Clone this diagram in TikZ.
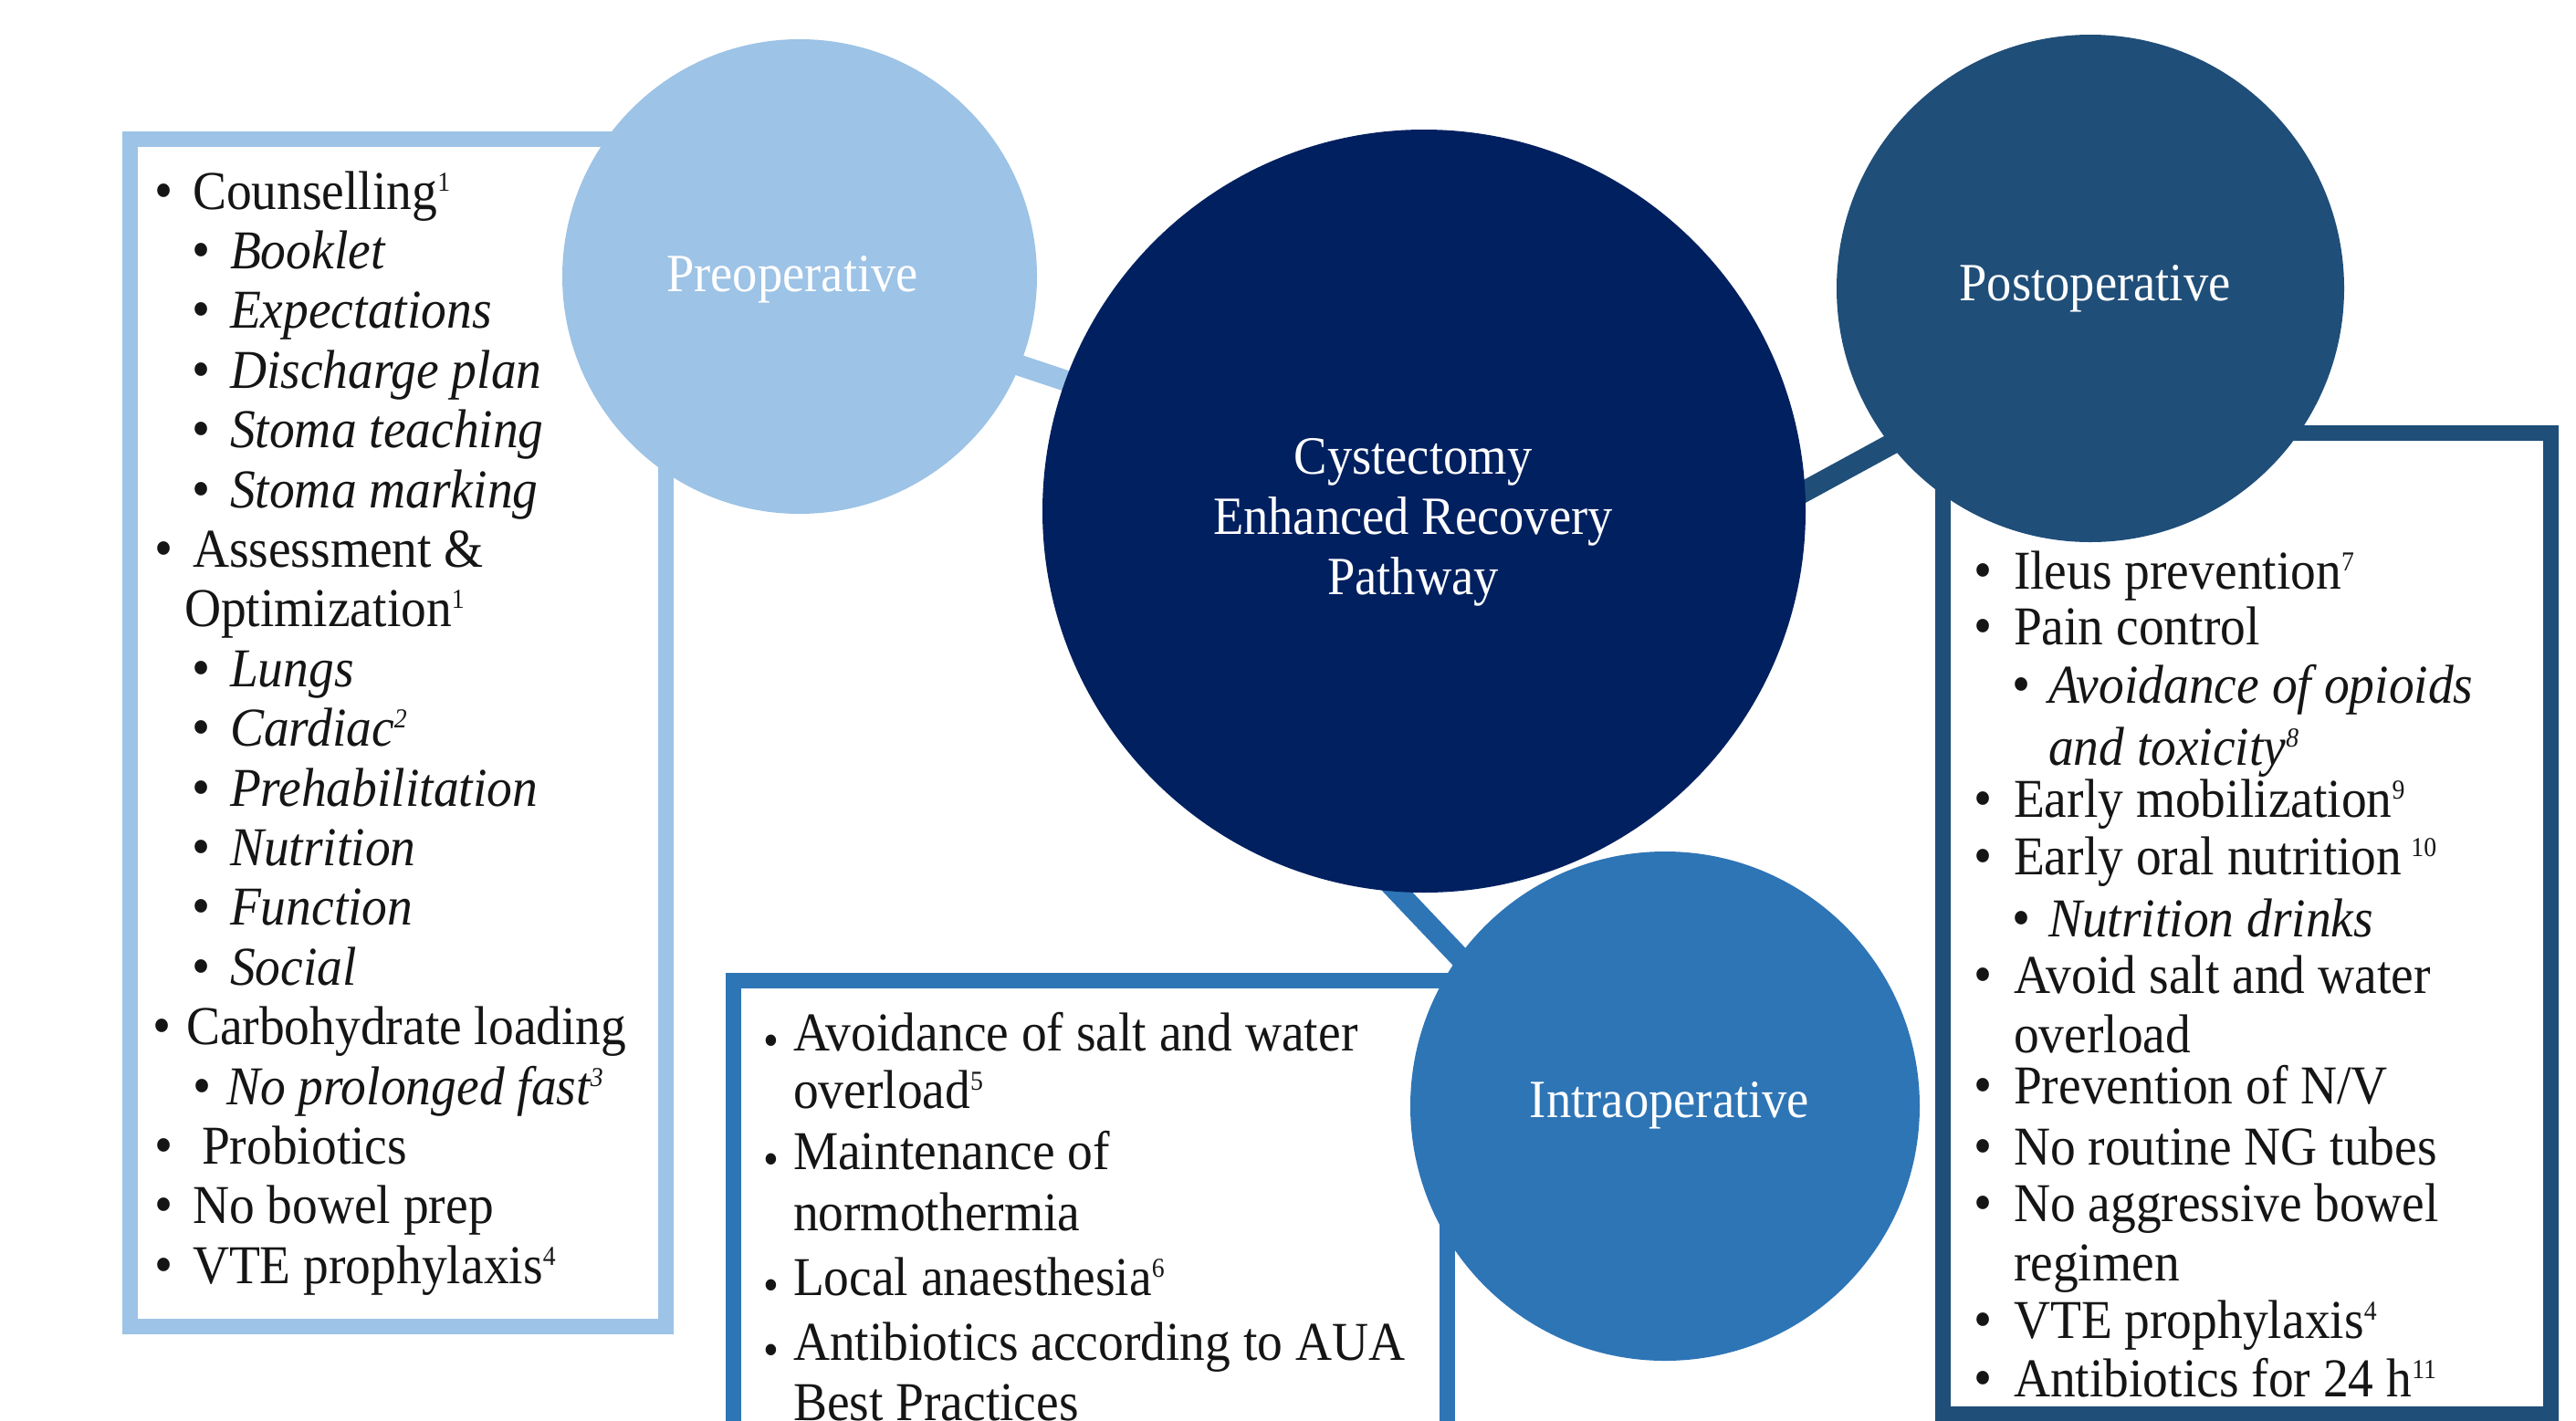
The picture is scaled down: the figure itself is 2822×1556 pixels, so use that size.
\documentclass[tikz,border=0pt]{standalone}
\usepackage{fontspec}
\setmainfont{Liberation Serif}[FakeStretch=0.925]

\definecolor{preC}{HTML}{9DC3E6}
\definecolor{intraC}{HTML}{2E75B6}
\definecolor{postC}{HTML}{1F4E79}
\definecolor{cenC}{HTML}{002060}
\definecolor{txtC}{HTML}{151515}

\pgfdeclarelayer{bg}
\pgfsetlayers{bg,main}

% bullets: regular and a small low one for the intraoperative list
\newcommand{\bul}{{\fontsize{62}{62}\selectfont\textbullet}}
\newcommand{\lowbul}{\raisebox{-6pt}{\fontsize{52}{52}\selectfont\textbullet}}
% small raised reference numbers
\newcommand{\rf}[1]{\raisebox{20pt}{\fontsize{30}{30}\selectfont #1}}

\tikzset{
  lst/.style={inner sep=0pt, outer sep=0pt, anchor=base west, text=txtC,
              font=\fontsize{60}{65}\selectfont},
  phase/.style={circle, inner sep=0pt, outer sep=0pt, minimum size=#1},
  frame/.style={line width=17pt, line join=miter},
  conn/.style={line width=23pt, shorten <=-30pt, shorten >=-30pt},
  lbl/.style={text=white, font=\fontsize{59}{66}\selectfont, inner sep=0pt, anchor=base},
}

% list line with a bullet: name, x, baseline, gap, text
\newcommand{\itm}[5]{\node[lst] (#1) at (#2,#3) {\llap{\bul\hspace{#4pt}}#5};}
\newcommand{\itmlow}[5]{\node[lst] (#1) at (#2,#3) {\llap{\lowbul\hspace{#4pt}}#5};}
% continuation line: name, x, baseline, text
\newcommand{\cont}[4]{\node[lst] (#1) at (#2,#3) {#4};}

\begin{document}
\begin{tikzpicture}[x=1pt, y=-1pt]
\begin{pgfonlayer}{bg}
  \fill[white] (0,0) rectangle (2822,1556);
\end{pgfonlayer}
\useasboundingbox (0,0) rectangle (2822,1556);

% phase circles
\node[phase=836pt, fill=cenC]   (cen)   at (1560,560)  {};
\node[phase=520pt, fill=preC]   (pre)   at (876,303)   {};
\node[phase=556pt, fill=postC]  (post)  at (2290,316)  {};
\node[phase=558pt, fill=intraC] (intra) at (1824,1212) {};

% frames and links behind the circles
\begin{pgfonlayer}{bg}
  \draw[frame, draw=preC]   (142.5,152.5) rectangle (729.5,1453.5);
  \draw[frame, draw=intraC] (803,1575) -- (803,1074) -- (1585,1074) -- (1585,1575);
  \draw[frame, draw=postC]  (2128,474) rectangle (2794,1549);
  \draw[conn, draw=preC]   (pre.-22) -- (cen.160);
  \draw[conn, draw=postC]  (cen.3)   -- (post.218);
  \draw[conn, draw=intraC] (cen.266) -- (intra.144);
\end{pgfonlayer}

% circle labels
\node[lbl] (preL)   at (868,319)   {Preoperative};
\node[lbl] (postL)  at (2295,329)  {Postoperative};
\node[lbl] (intraL) at (1829,1224) {Intraoperative};
\node[lbl, anchor=center, align=center] (cenL) at (1548,572)
  {Cystectomy\\Enhanced Recovery\\Pathway};

% preoperative list
\itm{p1}{211}{229}{21}{Counselling\rf{1}}
\itm{p2}{252}{294.4}{21}{\textit{Booklet}}
\itm{p3}{252}{359.8}{21}{\textit{Expectations}}
\itm{p4}{252}{425.2}{21}{\textit{Discharge plan}}
\itm{p5}{252}{490.6}{21}{\textit{Stoma teaching}}
\itm{p6}{252}{556}{21}{\textit{Stoma marking}}
\itm{p7}{211}{621.4}{21}{Assessment \&}
\cont{p8}{202}{686.8}{Optimization\rf{1}}
\itm{p9}{252}{752.2}{21}{\textit{Lungs}}
\itm{p10}{252}{817.6}{21}{\textit{Cardiac\rf{2}}}
\itm{p11}{252}{883}{21}{\textit{Prehabilitation}}
\itm{p12}{252}{948.4}{21}{\textit{Nutrition}}
\itm{p13}{252}{1013.8}{21}{\textit{Function}}
\itm{p14}{252}{1079.2}{21}{\textit{Social}}
\itm{p15}{204}{1144.6}{16}{Carbohydrate loading}
\itm{p16}{248}{1210}{16}{\textit{No prolonged fast\rf{3}}}
\itm{p17}{221}{1275.4}{31}{Probiotics}
\itm{p18}{211}{1340.8}{21}{No bowel prep}
\itm{p19}{211}{1406.2}{21}{VTE prophylaxis\rf{4}}

% intraoperative list
\itmlow{i1}{869}{1151}{16}{Avoidance of salt and water}
\cont{i2}{869}{1214}{overload\rf{5}}
\itmlow{i3}{869}{1281}{16}{Maintenance of}
\cont{i4}{869}{1348}{normothermia}
\itmlow{i5}{869}{1419}{16}{Local anaesthesia\rf{6}}
\itmlow{i6}{869}{1490}{16}{Antibiotics according to AUA}
\cont{i7}{869}{1556}{Best Practices}

% postoperative list
\itm{q1}{2206}{645}{23}{Ileus prevention\rf{7}}
\itm{q2}{2206}{706}{23}{Pain control}
\itm{q3}{2244}{770}{19}{\textit{Avoidance of opioids}}
\cont{q4}{2244}{838}{\textit{and toxicity\rf{8}}}
\itm{q5}{2206}{895}{23}{Early mobilization\rf{9}}
\itm{q6}{2206}{958}{23}{Early oral nutrition\,\rf{10}}
\itm{q7}{2244}{1026}{19}{\textit{Nutrition drinks}}
\itm{q8}{2206}{1088}{23}{Avoid salt and water}
\cont{q9}{2206}{1153}{overload}
\itm{q10}{2206}{1209}{23}{Prevention of N/V}
\itm{q11}{2206}{1276}{23}{No routine NG tubes}
\itm{q12}{2206}{1338}{23}{No aggressive bowel}
\cont{q13}{2206}{1403}{regimen}
\itm{q14}{2206}{1466}{23}{VTE prophylaxis\rf{4}}
\itm{q15}{2206}{1530}{23}{Antibiotics for 24 h\rf{11}}
\end{tikzpicture}
\end{document}
